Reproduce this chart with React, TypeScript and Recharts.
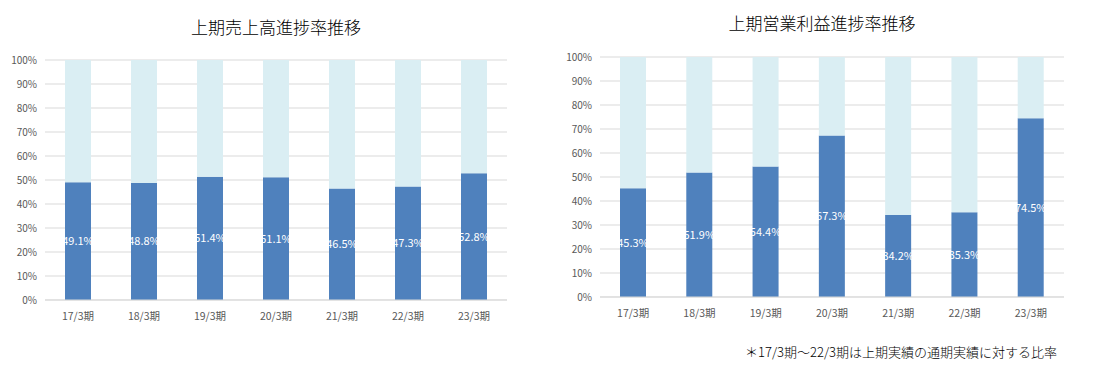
import { BarChart, Bar, XAxis, YAxis, CartesianGrid, LabelList } from "recharts";

const periods = ["17/3期", "18/3期", "19/3期", "20/3期", "21/3期", "22/3期", "23/3期"];
const salesProgress = [49.1, 48.8, 51.4, 51.1, 46.5, 47.3, 52.8];
const profitProgress = [45.3, 51.9, 54.4, 67.3, 34.2, 35.3, 74.5];
const yTicks = [0, 10, 20, 30, 40, 50, 60, 70, 80, 90, 100];

const font = "'Noto Sans CJK JP', 'Noto Sans', sans-serif";
const dark = "#4F81BD";
const light = "#DAEEF3";
const gridColor = "#D9D9D9";

function buildRows(values: number[]) {
  return periods.map((p, i) => ({ period: p, value: values[i], rest: 100 - values[i] }));
}

function ProgressChart({ values, width, height, top, right }: { values: number[]; width: number; height: number; top: number; right: number }) {
  return (
    <BarChart
      width={width}
      height={height}
      data={buildRows(values)}
      margin={{ top, right, left: 5, bottom: 10 }}
    >
      <CartesianGrid vertical={false} stroke={gridColor} />
      <XAxis
        dataKey="period"
        height={30}
        tickLine={false}
        axisLine={{ stroke: gridColor }}
        tick={{ fill: "#595959", fontSize: 10.5, fontFamily: font, dy: 5 }}
      />
      <YAxis
        width={40}
        domain={[0, 100]}
        ticks={yTicks}
        tickFormatter={(v) => `${v}%`}
        axisLine={false}
        tickLine={false}
        interval={0}
        tick={{ fill: "#595959", fontSize: 10, fontFamily: font }}
      />
      <Bar dataKey="value" stackId="a" fill={dark} barSize={26} isAnimationActive={false}>
        <LabelList
          dataKey="value"
          position="center"
          formatter={(v: any) => `${Number(v).toFixed(1)}%`}
          style={{ fill: "#FFFFFF", fontSize: 11, fontFamily: font }}
        />
      </Bar>
      <Bar dataKey="rest" stackId="a" fill={light} barSize={26} isAnimationActive={false} />
    </BarChart>
  );
}

export default function App() {
  return (
    <div style={{ position: "absolute", left: 0, top: 0, width: 1114, height: 370, background: "#fff", fontFamily: font }}>
      <div style={{ position: "absolute", left: 176, top: 14, width: 200, textAlign: "center", fontSize: 17, fontWeight: 300, color: "#000" }}>
        上期売上高進捗率推移
      </div>
      <div style={{ position: "absolute", left: 0, top: 0 }}>
        <ProgressChart values={salesProgress} width={560} height={340} top={60} right={53} />
      </div>
      <div style={{ position: "absolute", left: 722, top: 10, width: 200, textAlign: "center", fontSize: 17, fontWeight: 300, color: "#000" }}>
        上期営業利益進捗率推移
      </div>
      <div style={{ position: "absolute", left: 555, top: 0 }}>
        <ProgressChart values={profitProgress} width={559} height={337} top={57} right={50} />
      </div>
      <div style={{ position: "absolute", left: 745, top: 342, fontSize: 13, fontWeight: 300, color: "#000", whiteSpace: "nowrap" }}>
        ＊17/3期～22/3期は上期実績の通期実績に対する比率
      </div>
    </div>
  );
}
